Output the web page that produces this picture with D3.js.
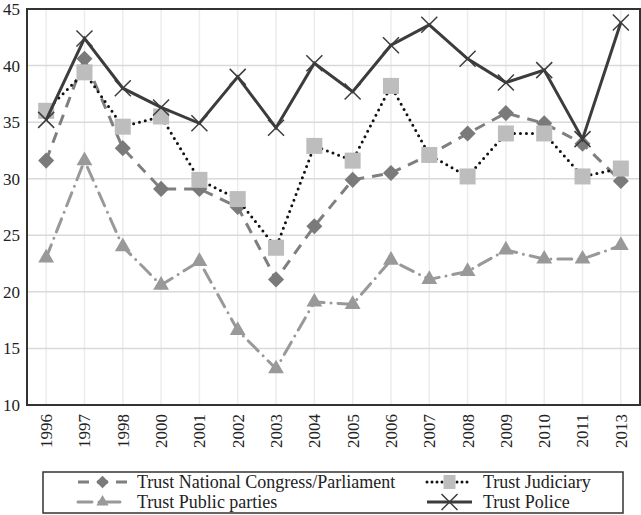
<!DOCTYPE html>
<html>
<head>
<meta charset="utf-8">
<script src="https://cdn.jsdelivr.net/npm/d3@7"></script>
<style>
  body { margin: 0; background: #fff; }
  svg { display: block; }
  svg text { font-family: "Liberation Serif", "DejaVu Serif", serif; }
</style>
</head>
<body>
<svg width="641" height="515"></svg>
<script>
// categories and series
const years = ['1996','1997','1998','2000','2001','2002','2003','2004','2005','2006','2007','2008','2009','2010','2011','2013'];
const congress = [31.6, 40.6, 32.7, 29.1, 29.1, 27.5, 21.1, 25.8, 29.9, 30.5, 32.1, 34.0, 35.8, 34.9, 33.1, 29.8];
const judiciary = [36.0, 39.4, 34.6, 35.5, 29.9, 28.2, 23.9, 32.9, 31.6, 38.2, 32.1, 30.2, 34.0, 34.0, 30.2, 30.9];
const parties = [23.0, 31.6, 24.0, 20.6, 22.7, 16.6, 13.2, 19.1, 18.9, 22.8, 21.1, 21.8, 23.7, 22.9, 22.9, 24.1];
const police = [35.2, 42.4, 38.0, 36.3, 34.9, 39.0, 34.5, 40.2, 37.7, 41.8, 43.6, 40.6, 38.5, 39.6, 33.5, 43.8];
const yTicks = [10, 15, 20, 25, 30, 35, 40, 45];

const svg = d3.select('svg');
const margin = { top: 9, right: 1, bottom: 110, left: 27 };
const width = 641, height = 515;
const serif = '"Liberation Serif", "DejaVu Serif", serif';

const x = d3.scalePoint()
  .domain(years)
  .range([margin.left, width - margin.right])
  .padding(0.5);

const y = d3.scaleLinear()
  .domain([10, 45])
  .range([height - margin.bottom, margin.top]);

// grid
svg.append('g')
  .selectAll('line')
  .data(years)
  .enter().append('line')
  .attr('x1', d => x(d)).attr('x2', d => x(d))
  .attr('y1', y(45)).attr('y2', y(10))
  .attr('stroke', '#ececec').attr('stroke-width', 1.5);

svg.append('g')
  .selectAll('line')
  .data(yTicks)
  .enter().append('line')
  .attr('x1', margin.left).attr('x2', width - margin.right)
  .attr('y1', d => y(d)).attr('y2', d => y(d))
  .attr('stroke', '#d9d9d9').attr('stroke-width', 1.5);

// axes
const yAxis = svg.append('g')
  .attr('transform', `translate(${margin.left},0)`)
  .call(d3.axisLeft(y).tickValues(yTicks).tickSize(0).tickPadding(7));
yAxis.select('.domain').remove();
yAxis.selectAll('text')
  .style('font-family', serif).style('font-size', '17px').attr('fill', '#222');

const xAxis = svg.append('g')
  .attr('transform', `translate(0,${y(10)})`)
  .call(d3.axisBottom(x).tickSize(0).tickPadding(8));
xAxis.select('.domain').remove();
xAxis.selectAll('text')
  .style('font-family', serif).style('font-size', '17px').attr('fill', '#222')
  .attr('transform', 'rotate(-90)')
  .attr('text-anchor', 'end')
  .attr('x', -9).attr('y', 0).attr('dy', '0.32em');

// plot frame
svg.append('rect')
  .attr('x', margin.left).attr('y', y(45))
  .attr('width', width - margin.right - margin.left)
  .attr('height', y(10) - y(45))
  .attr('fill', 'none').attr('stroke', '#333').attr('stroke-width', 2);

const line = d3.line().x((d, i) => x(years[i])).y(d => y(d));

const series = [
  { name: 'Trust National Congress/Parliament', values: congress, stroke: '#7f7f7f', dash: '11,8', width: 3, cap: 'butt', marker: 'diamond', fill: '#7a7a7a' },
  { name: 'Trust Judiciary', values: judiciary, stroke: '#111', dash: '0,6', width: 3, cap: 'round', marker: 'square', fill: '#bdbdbd' },
  { name: 'Trust Public parties', values: parties, stroke: '#999', dash: '14,7,0,7', width: 3, cap: 'round', marker: 'triangle', fill: '#999' },
  { name: 'Trust Police', values: police, stroke: '#3c3c3c', dash: null, width: 3, cap: 'butt', marker: 'cross', fill: '#3c3c3c' }
];

function drawMarker(g, type, fill, size) {
  if (type === 'diamond') {
    g.append('path').attr('d', d3.symbol(d3.symbolDiamond2, size * 1.1)()).attr('fill', fill);
  } else if (type === 'square') {
    g.append('rect').attr('x', -8).attr('y', -8).attr('width', 16).attr('height', 16).attr('fill', fill);
  } else if (type === 'triangle') {
    g.append('path').attr('d', d3.symbol(d3.symbolTriangle2, size * 1.2)()).attr('fill', fill);
  } else {
    g.append('path').attr('d', 'M-8,-8L8,8M-8,8L8,-8').attr('stroke', fill).attr('stroke-width', 1.5).attr('fill', 'none');
  }
}

// draw order: parties, congress, judiciary, police
const order = [2, 0, 1, 3];
order.forEach(k => {
  const s = series[k];
  svg.append('path')
    .datum(s.values)
    .attr('d', line)
    .attr('fill', 'none')
    .attr('stroke', s.stroke)
    .attr('stroke-width', s.width)
    .attr('stroke-linecap', s.cap)
    .attr('stroke-dasharray', s.dash);
  svg.append('g')
    .selectAll('g')
    .data(s.values)
    .enter().append('g')
    .attr('transform', (d, i) => `translate(${x(years[i])},${y(d)})`)
    .each(function () { drawMarker(d3.select(this), s.marker, s.fill, 150); });
});

// legend
const legend = svg.append('g');
legend.append('rect')
  .attr('x', 43).attr('y', 472).attr('width', 580).attr('height', 41)
  .attr('fill', '#fff').attr('stroke', '#333').attr('stroke-width', 1.5);

const legendPos = [
  { s: series[0], x: 78, y: 482, w: 49, tx: 59 },
  { s: series[1], x: 427, y: 482, w: 45, tx: 56 },
  { s: series[2], x: 78, y: 502, w: 49, tx: 59 },
  { s: series[3], x: 427, y: 502, w: 45, tx: 56 }
];
legendPos.forEach(p => {
  const s = p.s;
  const g = legend.append('g').attr('transform', `translate(${p.x},${p.y})`);
  g.append('line')
    .attr('x1', 0).attr('x2', p.w).attr('y1', 0).attr('y2', 0)
    .attr('stroke', s.stroke).attr('stroke-width', s.width)
    .attr('stroke-linecap', s.cap)
    .attr('stroke-dasharray', s.marker === 'square' ? '0,5' : s.dash);
  const m = g.append('g').attr('transform', `translate(${p.w / 2},0)`);
  if (s.marker === 'square') {
    m.append('rect').attr('x', -6).attr('y', -7).attr('width', 12).attr('height', 14).attr('fill', s.fill);
  } else {
    drawMarker(m, s.marker, s.fill, 90);
  }
  g.append('text')
    .attr('x', p.tx)
    .attr('y', 0).attr('dy', '0.35em')
    .style('font-family', serif).style('font-size', '18px').attr('fill', '#222')
    .text(s.name);
});
</script>
</body>
</html>
